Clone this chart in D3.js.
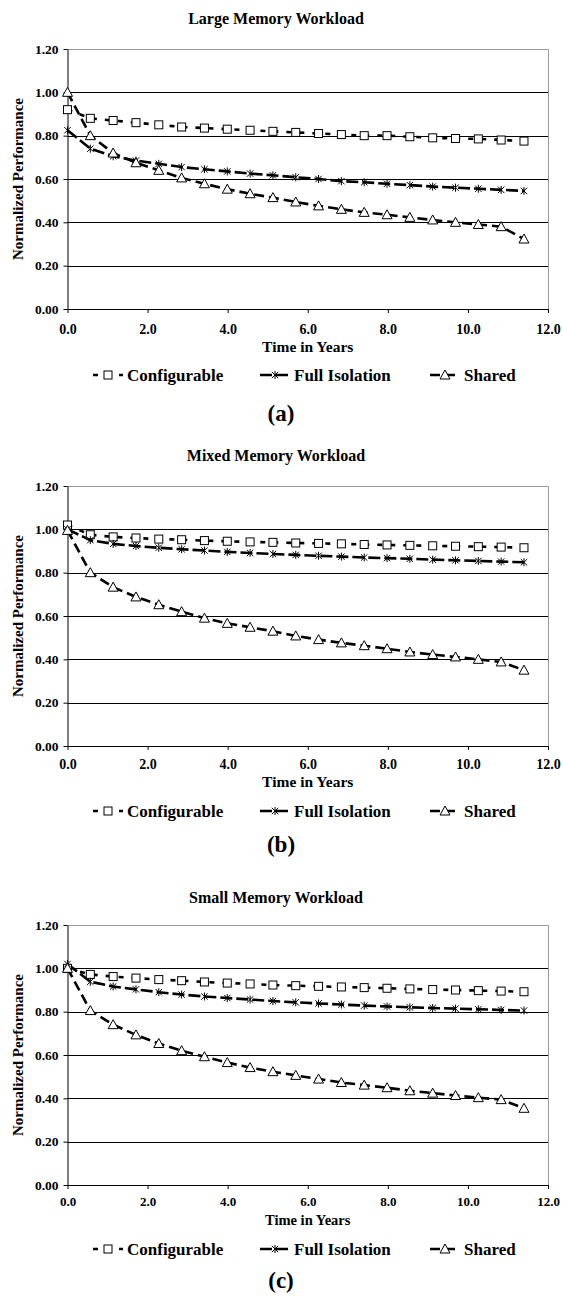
<!DOCTYPE html>
<html>
<head>
<meta charset="utf-8">
<script src="https://cdn.jsdelivr.net/npm/d3@7"></script>
<style>
  body { margin: 0; background: #fff; }
  svg { display: block; }
  svg text { font-family: "Liberation Serif", "Times New Roman", serif; font-weight: bold; fill: #000; }
</style>
</head>
<body>
<div id="chart"></div>
<script>
// x values (years) shared by every series
var years = [0, 0.57, 1.14, 1.71, 2.28, 2.85, 3.42, 3.99, 4.56, 5.13, 5.70,
             6.27, 6.84, 7.41, 7.98, 8.55, 9.12, 9.69, 10.26, 10.83, 11.40];

var seriesNames = ["Configurable", "Full Isolation", "Shared"];
var panelTitles = ["Large Memory Workload", "Mixed Memory Workload", "Small Memory Workload"];
var panelCaptions = ["(a)", "(b)", "(c)"];

var yTicks = [0, 0.2, 0.4, 0.6, 0.8, 1.0, 1.2];
var xTicks = [0, 2, 4, 6, 8, 10, 12];

// (a) large memory
var largeConfig = [0.92, 0.88, 0.87, 0.86, 0.85, 0.84, 0.835, 0.83, 0.825, 0.82, 0.815,
                   0.81, 0.805, 0.80, 0.80, 0.795, 0.79, 0.787, 0.785, 0.78, 0.775];
var largeIsol   = [0.825, 0.74, 0.705, 0.685, 0.67, 0.655, 0.645, 0.635, 0.625, 0.617, 0.608,
                   0.60, 0.59, 0.585, 0.578, 0.572, 0.565, 0.56, 0.555, 0.55, 0.545];
var largeShared = [1.00, 0.80, 0.72, 0.675, 0.64, 0.605, 0.578, 0.553, 0.532, 0.514, 0.494,
                   0.476, 0.46, 0.446, 0.435, 0.423, 0.411, 0.40, 0.39, 0.38, 0.323];
// (b) mixed memory
var mixedConfig = [1.02, 0.975, 0.965, 0.96, 0.955, 0.952, 0.948, 0.945, 0.942, 0.94, 0.937,
                   0.935, 0.933, 0.93, 0.928, 0.926, 0.924, 0.922, 0.92, 0.918, 0.915];
var mixedIsol   = [1.00, 0.95, 0.933, 0.923, 0.915, 0.908, 0.902, 0.896, 0.891, 0.886, 0.882,
                   0.878, 0.874, 0.87, 0.867, 0.864, 0.86, 0.857, 0.854, 0.851, 0.848];
var mixedShared = [0.995, 0.80, 0.733, 0.688, 0.652, 0.62, 0.59, 0.566, 0.548, 0.53, 0.508,
                   0.491, 0.476, 0.463, 0.449, 0.434, 0.422, 0.411, 0.40, 0.388, 0.35];
// (c) small memory
var smallConfig = [1.00, 0.972, 0.962, 0.955, 0.948, 0.943, 0.937, 0.932, 0.928, 0.923, 0.92,
                   0.917, 0.914, 0.911, 0.908, 0.905, 0.902, 0.90, 0.897, 0.895, 0.892];
var smallIsol   = [1.02, 0.938, 0.916, 0.903, 0.89, 0.879, 0.87, 0.863, 0.856, 0.849, 0.843,
                   0.838, 0.833, 0.828, 0.824, 0.82, 0.817, 0.814, 0.811, 0.808, 0.805];
var smallShared = [1.00, 0.805, 0.74, 0.693, 0.653, 0.62, 0.592, 0.565, 0.542, 0.523, 0.506,
                   0.489, 0.473, 0.461, 0.449, 0.435, 0.424, 0.413, 0.403, 0.394, 0.354];

var panelData = [
  [largeConfig, largeIsol, largeShared],
  [mixedConfig, mixedIsol, mixedShared],
  [smallConfig, smallIsol, smallShared]
];

// layout
var W = 563, H = 1299;
var plotLeft = 67.5, plotRight = 548, plotH = 260;
var plotTops = [49, 486, 925];
var titleOff = [31, 31, 28];
var tickPad = [11, 9, 8];
var timeOff = [38, 36, 35];
var legendOff = [66, 65, 64];
var captionOff = [104, 98, 95];
var xFont = [14, 14, 13];
var timeFont = [15.5, 15.5, 14.5];
var dashes = ["5,8", "12,4", "10,5"];
var markers = ["square", "star", "triangle"];
var legendX = [93, 260, 430];
var serif = "'Liberation Serif', 'Times New Roman', serif";

var svg = d3.select("#chart").append("svg")
  .attr("width", W)
  .attr("height", H)
  .attr("font-family", serif)
  .attr("font-weight", "bold");

var fmtY = d3.format(".2f");
var fmtX = d3.format(".1f");

function drawMarker(g, type) {
  if (type == "square") {
    g.append("rect")
      .attr("x", -4).attr("y", -4)
      .attr("width", 8).attr("height", 8)
      .attr("fill", "#fff").attr("stroke", "#000").attr("stroke-width", 1);
  } else if (type == "triangle") {
    g.append("path")
      .attr("d", "M0,-5L5,4L-5,4Z")
      .attr("fill", "#fff").attr("stroke", "#000").attr("stroke-width", 1);
  } else {
    g.append("path")
      .attr("d", "M-3.2,-3.2L3.2,3.2M-3.2,3.2L3.2,-3.2M0,-4L0,4")
      .attr("fill", "none").attr("stroke", "#000").attr("stroke-width", 1);
  }
}

var renderPanel = function(idx) {
  var top = plotTops[idx];
  var bottom = top + plotH;

  var x = d3.scaleLinear().domain([0, 12]).range([plotLeft, plotRight]);
  var y = d3.scaleLinear().domain([0, 1.2]).range([bottom, top]);

  var g = svg.append("g").attr("class", "panel");

  // title
  g.append("text")
    .attr("x", 276)
    .attr("y", top - titleOff[idx])
    .attr("dy", "0.35em")
    .attr("text-anchor", "middle")
    .attr("font-family", serif)
    .style("font-size", "16px")
    .text(panelTitles[idx]);

  // plot border (grey top / right)
  g.append("path")
    .attr("d", "M" + plotLeft + "," + (top + 0.5) + "H" + (plotRight + 0.5) + "V" + bottom)
    .attr("fill", "none")
    .attr("stroke", "#999")
    .attr("stroke-width", 1);

  // gridlines
  g.append("g")
    .selectAll("line")
    .data(yTicks.filter(d => d > 0 && d < 1.2))
    .enter().append("line")
      .attr("x1", plotLeft).attr("x2", plotRight)
      .attr("y1", d => Math.round(y(d)) + 0.5)
      .attr("y2", d => Math.round(y(d)) + 0.5)
      .attr("stroke", "#000")
      .attr("stroke-width", 1);

  // axes
  var yAxis = g.append("g")
    .attr("transform", "translate(" + plotLeft + ",0)")
    .call(d3.axisLeft(y).tickValues(yTicks).tickFormat(fmtY)
      .tickSize(4).tickSizeOuter(0).tickPadding(5));
  yAxis.attr("font-family", serif).attr("font-size", null);
  yAxis.selectAll("text").style("font-size", "13.5px");

  var xAxis = g.append("g")
    .attr("transform", "translate(0," + bottom + ")")
    .call(d3.axisBottom(x).tickValues(xTicks).tickFormat(fmtX)
      .tickSize(4).tickSizeOuter(0).tickPadding(tickPad[idx]));
  xAxis.attr("font-family", serif).attr("font-size", null);
  xAxis.selectAll("text").style("font-size", xFont[idx] + "px");

  g.selectAll(".domain, .tick line").attr("stroke", "#000");

  // axis titles
  g.append("text")
    .attr("transform", "translate(18," + (top + plotH / 2) + ") rotate(-90)")
    .attr("dy", "0.35em")
    .attr("text-anchor", "middle")
    .style("font-size", "15px")
    .text("Normalized Performance");

  g.append("text")
    .attr("x", (plotLeft + plotRight) / 2)
    .attr("y", bottom + timeOff[idx])
    .attr("dy", "0.35em")
    .attr("text-anchor", "middle")
    .style("font-size", timeFont[idx] + "px")
    .text("Time in Years");

  // series lines and markers
  var lineGenerator = d3.line()
    .x((d, i) => x(years[i]))
    .y(d => y(d));

  panelData[idx].forEach(function(vals, s) {
    g.append("path")
      .attr("d", lineGenerator(vals))
      .attr("fill", "none")
      .attr("stroke", "#000")
      .attr("stroke-width", 2.6)
      .attr("stroke-dasharray", dashes[s]);
  });
  panelData[idx].forEach(function(vals, s) {
    g.append("g")
      .selectAll("g")
      .data(vals)
      .enter().append("g")
        .attr("transform", (d, i) => "translate(" + x(years[i]) + "," + y(d) + ")")
        .each(function() { drawMarker(d3.select(this), markers[s]); });
  });

  // legend
  var ly = bottom + legendOff[idx];
  seriesNames.forEach(function(name, s) {
    var lg = g.append("g").attr("transform", "translate(" + legendX[s] + "," + ly + ")");
    lg.append("line")
      .attr("x1", 0).attr("x2", 30)
      .attr("stroke", "#000")
      .attr("stroke-width", 2.6)
      .attr("stroke-dasharray", dashes[s]);
    var mg = lg.append("g").attr("transform", "translate(15,0)");
    drawMarker(mg, markers[s]);
    lg.append("text")
      .attr("x", 34)
      .attr("dy", "0.35em")
      .style("font-size", "17px")
      .text(name);
  });

  // caption
  g.append("text")
    .attr("x", 281)
    .attr("y", bottom + captionOff[idx])
    .attr("dy", "0.35em")
    .attr("text-anchor", "middle")
    .style("font-size", "23px")
    .text(panelCaptions[idx]);
};

[0, 1, 2].forEach(renderPanel);
</script>
</body>
</html>
